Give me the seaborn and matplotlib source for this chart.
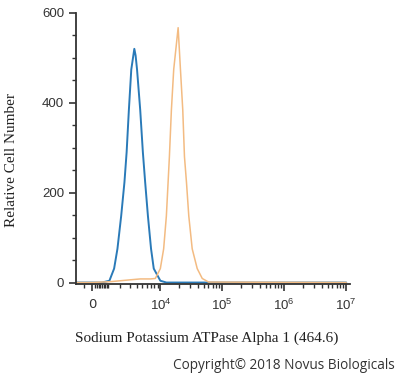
import numpy as np
import seaborn as sns
import matplotlib.pyplot as plt
from matplotlib.ticker import FixedLocator

# histogram traces (fluorescence, cell count)
blue_x = [-1000, 0, 600, 1098, 1454, 1732, 2075, 2408, 2651, 2918, 3227,
          3655, 3850, 4076, 4622, 5126, 5604, 6231, 7021, 7780, 9975, 12500, 1e7]
blue_y = [0, 0, 0, 4, 31, 75, 148, 223, 290, 384, 474,
          520, 505, 474, 384, 290, 223, 148, 75, 31, 4, 0, 0]

orange_x = [-1000, 0, 1200, 3080, 4622, 6830, 8252, 9975, 11298, 12506, 13342,
            14007, 15094, 16457, 19410, 21155, 23059, 24567, 26471, 28852,
            32756, 39469, 47578, 60195, 1e7]
orange_y = [0, 0, 2, 6, 8, 8, 9, 31, 75, 148, 223,
            280, 384, 474, 567, 474, 384, 280, 223, 148,
            75, 31, 9, 1, 0]

x_ticks = [0, 1e4, 1e5, 1e6, 1e7]
x_labels = ["0", "$10^{4}$", "$10^{5}$", "$10^{6}$", "$10^{7}$"]
y_ticks = [0, 200, 400, 600]

sns.set_style("ticks")
plt.rcParams["mathtext.fontset"] = "custom"
plt.rcParams["mathtext.rm"] = "Liberation Sans"

C = 1587.0
def fwd(x):
    return np.arcsinh(np.asarray(x) / C) / np.log(10)
def inv(y):
    return C * np.sinh(np.asarray(y) * np.log(10))

fig = plt.figure(figsize=(4, 3.78), dpi=100)
ax = fig.add_axes([0.19, 0.249, 0.685, 0.717])
ax.set_xscale("function", functions=(fwd, inv))

sns.lineplot(x=blue_x, y=blue_y, ax=ax, color="#2a7ab8", lw=1.4, sort=False)
sns.lineplot(x=orange_x, y=orange_y, ax=ax, color="#f3bb82", lw=1.1, sort=False)

ax.set_xlim(-1000, 1.15e7)
ax.set_ylim(-3, 600)

minor_x = [m * 10 ** e for e in range(2, 7) for m in range(2, 10)] + [1000, -500]
ax.xaxis.set_major_locator(FixedLocator(x_ticks))
ax.xaxis.set_minor_locator(FixedLocator(minor_x))
ax.set_xticklabels(x_labels)
ax.set_yticks(y_ticks)
ax.yaxis.set_minor_locator(FixedLocator([50, 100, 150, 250, 300, 350, 450, 500, 550]))

ax.tick_params(axis="both", which="major", length=5, width=1.2, color="#333333",
               labelsize=9.5, labelcolor="#333333")
ax.tick_params(axis="both", which="minor", length=3, width=1, color="#333333")
ax.tick_params(axis="x", pad=5)
for lab in ax.get_yticklabels():
    lab.set_family("Liberation Sans")

sns.despine(ax=ax)
for s in ["left", "bottom"]:
    ax.spines[s].set_color("#333333")
    ax.spines[s].set_linewidth(1.3)

ax.set_xlabel("Sodium Potassium ATPase Alpha 1 (464.6)", family="Liberation Serif",
              fontsize=11, color="#222222")
ax.xaxis.set_label_coords(0.478, -0.177)
ax.set_ylabel("Relative Cell Number", family="Liberation Serif",
              fontsize=11, color="#222222")
ax.yaxis.set_label_coords(-0.21, 0.457)

fig.text(0.988, 0.034, "Copyright\u00a9 2018 Novus Biologicals", ha="right",
         va="center", family="Open Sans", fontsize=9.8, color="#333333")

plt.savefig("out.png", dpi=100)
